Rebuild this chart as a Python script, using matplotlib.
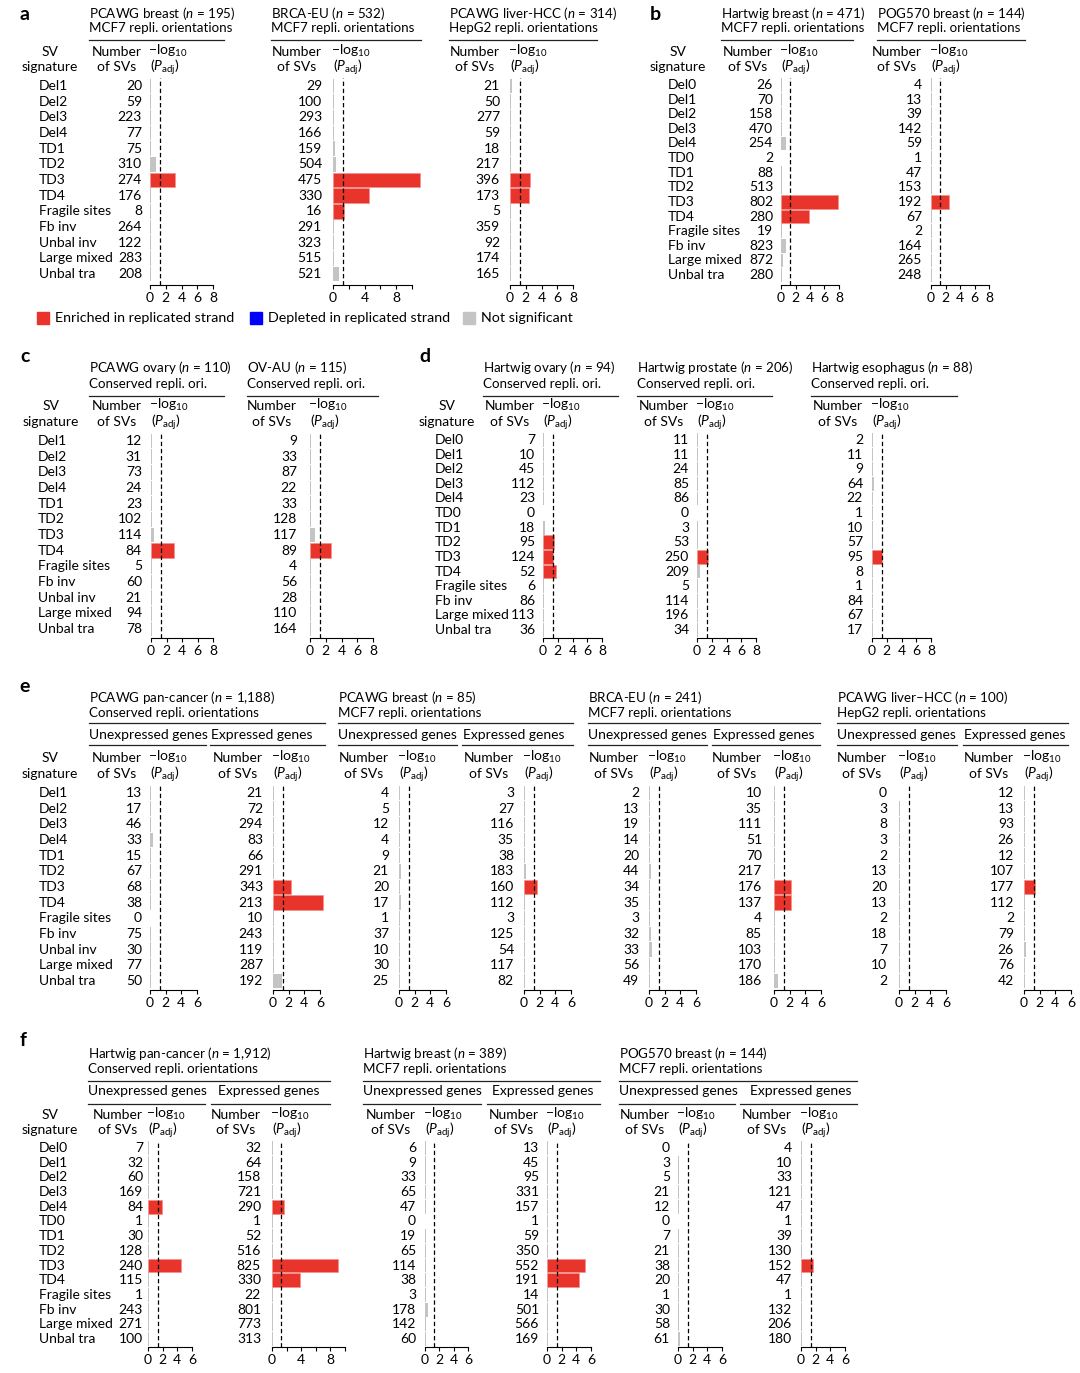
import matplotlib
matplotlib.use("Agg")
import matplotlib.pyplot as plt
from matplotlib.lines import Line2D
from matplotlib.patches import Rectangle

W, H = 1080, 1373

plt.rcParams['font.family'] = ['Lato', 'DejaVu Sans']
plt.rcParams['font.size'] = 10
plt.rcParams['mathtext.fontset'] = 'custom'
plt.rcParams['mathtext.rm'] = 'Lato'
plt.rcParams['mathtext.it'] = 'Lato:italic'
plt.rcParams['mathtext.bf'] = 'Lato:bold'

RED = '#e8342b'
GRAY = '#c4c4c4'
BLUE = '#0000ff'
THR = 1.3  # -log10(0.05)
TITLE_FS = 9.6

sigs13 = ['Del1', 'Del2', 'Del3', 'Del4', 'TD1', 'TD2', 'TD3', 'TD4',
          'Fragile sites', 'Fb inv', 'Unbal inv', 'Large mixed', 'Unbal tra']
sigs14 = ['Del0', 'Del1', 'Del2', 'Del3', 'Del4', 'TD0', 'TD1', 'TD2', 'TD3',
          'TD4', 'Fragile sites', 'Fb inv', 'Large mixed', 'Unbal tra']

# panel a
n_a1 = [20, 59, 223, 77, 75, 310, 274, 176, 8, 264, 122, 283, 208]
p_a1 = [.15, .1, .1, .1, .1, .7, 3.2, .1, .1, .1, .1, .1, .1]
enr_a1 = ['TD3']
n_a2 = [29, 100, 293, 166, 159, 504, 475, 330, 16, 291, 323, 515, 521]
p_a2 = [.15, .1, .1, .1, .25, .35, 11.0, 4.6, 1.4, .1, .1, .1, .7]
enr_a2 = ['TD3', 'TD4', 'Fragile sites']
n_a3 = [21, 50, 277, 59, 18, 217, 396, 173, 5, 359, 92, 174, 165]
p_a3 = [.25, .1, .1, .1, .1, .1, 2.6, 2.4, .1, .1, .1, .1, .1]
enr_a3 = ['TD3', 'TD4']

# panel b
n_b1 = [26, 70, 158, 470, 254, 2, 88, 513, 802, 280, 19, 823, 872, 280]
p_b1 = [.1, .15, .1, .1, .65, 0, .1, .1, 7.9, 3.9, .1, .7, .3, .1]
enr_b1 = ['TD3', 'TD4']
n_b2 = [4, 13, 39, 142, 59, 1, 47, 153, 192, 67, 2, 164, 265, 248]
p_b2 = [.1, .15, .1, .1, .1, .1, .1, .1, 2.5, .1, .1, .1, .1, .1]
enr_b2 = ['TD3']

# panel c
n_c1 = [12, 31, 73, 24, 23, 102, 114, 84, 5, 60, 21, 94, 78]
p_c1 = [.1, .1, .1, .1, .1, .1, .4, 3.0, .1, .1, .1, .1, .1]
enr_c1 = ['TD4']
n_c2 = [9, 33, 87, 22, 33, 128, 117, 89, 4, 56, 28, 110, 164]
p_c2 = [.15, .1, .1, .1, .1, .1, .6, 2.7, .1, .1, .1, .1, .1]
enr_c2 = ['TD4']

# panel d
n_d1 = [7, 10, 45, 112, 23, 0, 18, 95, 124, 52, 6, 86, 113, 36]
p_d1 = [.15, .1, .1, .1, .1, 0, .3, 1.5, 1.4, 1.75, .1, .1, .1, .1]
enr_d1 = ['TD2', 'TD3', 'TD4']
n_d2 = [11, 11, 24, 85, 86, 0, 3, 53, 250, 209, 5, 114, 196, 34]
p_d2 = [.1, .1, .1, .1, .1, 0, .1, .1, 1.5, .35, .1, .1, .1, .1]
enr_d2 = ['TD3']
n_d3 = [2, 11, 9, 64, 22, 1, 10, 57, 95, 8, 1, 84, 67, 17]
p_d3 = [.1, .1, .1, .3, .1, .1, .1, .15, 1.4, .1, .1, .1, .1, .1]
enr_d3 = ['TD3']

# panel e (u = unexpressed genes, e = expressed genes)
n_e1u = [13, 17, 46, 33, 15, 67, 68, 38, 0, 75, 30, 77, 50]
p_e1u = [.1, .1, .1, .35, .1, .1, .1, .1, 0, .1, .1, .1, .1]
n_e1e = [21, 72, 294, 83, 66, 291, 343, 213, 10, 243, 119, 287, 192]
p_e1e = [.1, .1, .1, .1, .1, .1, 2.3, 6.4, .1, .1, .1, .1, 1.2]
enr_e1e = ['TD3', 'TD4']
n_e2u = [4, 5, 12, 4, 9, 21, 20, 17, 1, 37, 10, 30, 25]
p_e2u = [.1, .1, .1, .1, .1, .3, .1, .3, .1, .1, .1, .1, .1]
n_e2e = [3, 27, 116, 35, 38, 183, 160, 112, 3, 125, 54, 117, 82]
p_e2e = [.1, .1, .1, .1, .1, .3, 1.7, .1, .1, .1, .1, .1, .1]
enr_e2e = ['TD3']
n_e3u = [2, 13, 19, 14, 20, 44, 34, 35, 3, 32, 33, 56, 49]
p_e3u = [.1, .1, .1, .1, .1, .25, .1, .1, .1, .25, .35, .1, .1]
n_e3e = [10, 35, 111, 51, 70, 217, 176, 137, 4, 85, 103, 170, 186]
p_e3e = [.1, .1, .1, .1, .1, .1, 2.2, 2.2, .1, .1, .1, .1, .55]
enr_e3e = ['TD3', 'TD4']
n_e4u = [0, 3, 8, 3, 2, 13, 20, 13, 2, 18, 7, 10, 2]
p_e4u = [0, .1, .1, .1, .1, .1, .1, .1, .1, .1, .1, .1, .1]
n_e4e = [12, 13, 93, 26, 12, 107, 177, 112, 2, 79, 26, 76, 42]
p_e4e = [.1, .1, .1, .1, .1, .1, 1.45, .15, .1, .1, .25, .1, .1]
enr_e4e = ['TD3']

# panel f
n_f1u = [7, 32, 60, 169, 84, 1, 30, 128, 240, 115, 1, 243, 271, 100]
p_f1u = [.1, .1, .1, .1, 1.9, .1, .1, .1, 4.5, .1, .1, .15, .1, .1]
enr_f1u = ['Del4', 'TD3']
n_f1e = [32, 64, 158, 721, 290, 1, 52, 516, 825, 330, 22, 801, 773, 313]
p_f1e = [.1, .1, .1, .1, 1.7, .1, .1, .1, 9.05, 3.9, .1, .1, .1, .1]
enr_f1e = ['Del4', 'TD3', 'TD4']
n_f2u = [6, 9, 33, 65, 47, 0, 19, 65, 114, 38, 3, 178, 142, 60]
p_f2u = [.1, .1, .1, .1, .1, 0, .1, .1, .1, .1, .1, .4, .1, .1]
n_f2e = [13, 45, 95, 331, 157, 1, 59, 350, 552, 191, 14, 501, 566, 169]
p_f2e = [.1, .1, .1, .1, .15, .1, .1, .1, 5.15, 4.3, .1, .1, .1, .1]
enr_f2e = ['TD3', 'TD4']
n_f3u = [0, 3, 5, 21, 12, 0, 7, 21, 38, 20, 1, 30, 58, 61]
p_f3u = [0, .1, .1, .1, .1, 0, .1, .1, .1, .1, .1, .1, .1, .25]
n_f3e = [4, 10, 33, 121, 47, 1, 39, 130, 152, 47, 1, 132, 206, 180]
p_f3e = [.1, .1, .1, .1, .1, .1, .1, .1, 1.7, .18, .1, .1, .1, .1]
enr_f3e = ['TD3']

fig = plt.figure(figsize=(W / 100, H / 100), dpi=100)


def fx(x):
    return x / W


def fy(y):
    return 1 - y / H


def txt(x, y, s, **kw):
    kw.setdefault('va', 'center')
    fig.text(fx(x), fy(y), s, **kw)


def hline(x1, x2, y, lw=0.9):
    fig.add_artist(Line2D([fx(x1), fx(x2)], [fy(y), fy(y)], color='#222222', lw=lw))


def bars(x0, x1, xmax, rows, sigs, counts, vals, enriched, numright,
         ticks, ticklabels, labels_x=None):
    y0, y1, yspine = rows
    n = len(sigs)
    sp = (y1 - y0) / (n - 1)
    top = y0 - sp / 2
    ax = fig.add_axes([fx(x0), fy(yspine), (x1 - x0) / W, (yspine - top) / H])
    ax.set_xlim(0, xmax)
    ax.set_ylim(n - 0.5 + (yspine - y1 - sp / 2) / sp, -0.5)
    for i, (s, v) in enumerate(zip(sigs, vals)):
        if s in enriched:
            ax.barh(i, v, height=0.94, color=RED, edgecolor='#f3918b', lw=0.5, clip_on=False)
        else:
            ax.barh(i, v, height=0.94, color=GRAY, lw=0, clip_on=False)
    ax.axvline(THR, color='k', ls=(0, (3.5, 2.2)), lw=0.9)
    for s in ['top', 'right', 'left']:
        ax.spines[s].set_visible(False)
    ax.spines['bottom'].set_linewidth(0.8)
    ax.set_yticks([])
    ax.set_xticks(ticks)
    ax.set_xticklabels(ticklabels)
    ax.tick_params(axis='x', length=3, width=0.8, pad=2, labelsize=10)
    for i, c in enumerate(counts):
        ax.annotate(str(c), xy=(0, i), xycoords=('axes fraction', 'data'),
                    xytext=(-(x0 - numright) * 0.72, 0), textcoords='offset points',
                    ha='right', va='center')
    if labels_x is not None:
        for i, s in enumerate(sigs):
            ax.annotate(s, xy=(0, i), xycoords=('axes fraction', 'data'),
                        xytext=(-(x0 - labels_x) * 0.72, 0), textcoords='offset points',
                        ha='left', va='center')
    return ax


def header(numright, x0, y1, y2):
    txt(numright - 25, y1, 'Number', ha='center')
    txt(numright - 25, y2, 'of SVs', ha='center')
    txt(x0 - 2, y1 - 1, '\u2212log$_{10}$', ha='left')
    txt(x0, y2, '($P_{\\mathrm{adj}}$)', ha='left')


def sv_header(xc, y1, y2):
    txt(xc, y1, 'SV', ha='center')
    txt(xc, y2, 'signature', ha='center')


def title(x, y1, y2, l1, l2, xend, yline):
    txt(x, y1, l1, ha='left', fontsize=TITLE_FS)
    txt(x, y2, l2, ha='left', fontsize=TITLE_FS)
    hline(x, xend, yline)


T8 = ([0, 2, 4, 6, 8], ['0', '2', '4', '6', '8'])
T10 = ([0, 2, 4, 6, 8, 10], ['0', '', '4', '', '8', ''])
T6 = ([0, 2, 4, 6], ['0', '2', '4', '6'])

# ---------------- panel a ----------------
txt(25, 14, 'a', fontsize=14, fontweight='bold', ha='center')
rows_a = (86, 274, 285)
sv_header(50, 52, 67)
title(89, 13, 28, 'PCAWG breast ($n$ = 195)', 'MCF7 repli. orientations', 224, 40)
title(271, 13, 28, 'BRCA-EU ($n$ = 532)', 'MCF7 repli. orientations', 421, 40)
title(449, 13, 28, 'PCAWG liver-HCC ($n$ = 314)', 'HepG2 repli. orientations', 597, 40)
for nr, x0 in [(142, 150), (322, 333), (500, 510)]:
    header(nr, x0, 52, 67)
bars(150, 213, 8, rows_a, sigs13, n_a1, p_a1, enr_a1, 142, *T8, labels_x=39)
bars(333, 412, 10, rows_a, sigs13, n_a2, p_a2, enr_a2, 322, *T10)
bars(510, 573, 8, rows_a, sigs13, n_a3, p_a3, enr_a3, 500, *T8)

# ---------------- panel b ----------------
txt(655, 14, 'b', fontsize=14, fontweight='bold', ha='center')
rows_b = (85, 275, 285)
sv_header(678, 52, 67)
title(721, 13, 28, 'Hartwig breast ($n$ = 471)', 'MCF7 repli. orientations', 853, 40)
title(877, 13, 28, 'POG570 breast ($n$ = 144)', 'MCF7 repli. orientations', 1025, 40)
for nr, x0 in [(773, 781), (922, 931)]:
    header(nr, x0, 52, 67)
bars(781, 839, 8, rows_b, sigs14, n_b1, p_b1, enr_b1, 773, *T8, labels_x=668)
bars(931, 989, 8, rows_b, sigs14, n_b2, p_b2, enr_b2, 922, *T8)

# legend
for xp, col, lab in [(37, RED, 'Enriched in replicated strand'),
                     (250, BLUE, 'Depleted in replicated strand'),
                     (463, GRAY, 'Not significant')]:
    fig.add_artist(Rectangle((fx(xp), fy(324)), 12 / W, 12 / H, color=col,
                             transform=fig.transFigure))
    txt(xp + 18, 318, lab, ha='left', fontsize=10.3)

# ---------------- panel c ----------------
txt(25, 356, 'c', fontsize=14, fontweight='bold', ha='center')
rows_c = (441, 629, 638)
sv_header(51, 406, 422)
title(89, 367, 384, 'PCAWG ovary ($n$ = 110)', 'Conserved repli. ori.', 224, 396)
title(247, 367, 384, 'OV-AU ($n$ = 115)', 'Conserved repli. ori.', 378, 396)
for nr, x0 in [(142, 151), (297, 310)]:
    header(nr, x0, 406, 422)
bars(151, 213, 8, rows_c, sigs13, n_c1, p_c1, enr_c1, 142, *T8, labels_x=38)
bars(310, 373, 8, rows_c, sigs13, n_c2, p_c2, enr_c2, 297, *T8)

# ---------------- panel d ----------------
txt(425, 356, 'd', fontsize=14, fontweight='bold', ha='center')
rows_d = (440, 630, 638)
sv_header(447, 406, 422)
title(483, 367, 384, 'Hartwig ovary ($n$ = 94)', 'Conserved repli. ori.', 618, 396)
title(637, 367, 384, 'Hartwig prostate ($n$ = 206)', 'Conserved repli. ori.', 772, 396)
title(811, 367, 384, 'Hartwig esophagus ($n$ = 88)', 'Conserved repli. ori.', 957, 396)
for nr, x0 in [(535, 543), (689, 697), (863, 872)]:
    header(nr, x0, 406, 422)
bars(543, 602, 8, rows_d, sigs14, n_d1, p_d1, enr_d1, 535, *T8, labels_x=435)
bars(697, 756, 8, rows_d, sigs14, n_d2, p_d2, enr_d2, 689, *T8)
bars(872, 931, 8, rows_d, sigs14, n_d3, p_d3, enr_d3, 863, *T8)

# ---------------- panel e ----------------
txt(25, 686, 'e', fontsize=14, fontweight='bold', ha='center')
rows_e = (793, 981, 990)
sv_header(50, 758, 774)
groups_e = [
    (89, 325, 'PCAWG pan-cancer ($n$ = 1,188)', 'Conserved repli. orientations', 206, 210, 211),
    (338, 573, 'PCAWG breast ($n$ = 85)', 'MCF7 repli. orientations', 457, 462, 463),
    (588, 820, 'BRCA-EU ($n$ = 241)', 'MCF7 repli. orientations', 707, 712, 713),
    (837, 1068, 'PCAWG liver\u2013HCC ($n$ = 100)', 'HepG2 repli. orientations', 957, 963, 964),
]
for gx, gend, l1, l2, uend, estart, ex in groups_e:
    title(gx, 697, 713, l1, l2, gend, 723)
    txt(gx, 735, 'Unexpressed genes', ha='left')
    txt(ex, 735, 'Expressed genes', ha='left')
    hline(gx, uend, 745)
    hline(estart, gend, 745)
cols_e = [(150, 142, n_e1u, p_e1u, [], 39), (273, 263, n_e1e, p_e1e, enr_e1e, None),
          (399, 389, n_e2u, p_e2u, [], None), (524, 514, n_e2e, p_e2e, enr_e2e, None),
          (649, 639, n_e3u, p_e3u, [], None), (774, 762, n_e3e, p_e3e, enr_e3e, None),
          (899, 887, n_e4u, p_e4u, [], None), (1024, 1014, n_e4e, p_e4e, enr_e4e, None)]
for x0, nr, cnt, pv, enr, lx in cols_e:
    header(nr, x0, 758, 774)
    bars(x0, x0 + 47, 6, rows_e, sigs13, cnt, pv, enr, nr, *T6, labels_x=lx)

# ---------------- panel f ----------------
txt(23, 1041, 'f', fontsize=14, fontweight='bold', ha='center')
rows_f = (1148, 1339, 1347)
sv_header(50, 1115, 1130)
groups_f = [
    (88, 330, 'Hartwig pan-cancer ($n$ = 1,912)', 'Conserved repli. orientations', 205, 211, 218),
    (363, 600, 'Hartwig breast ($n$ = 389)', 'MCF7 repli. orientations', 481, 487, 492),
    (619, 857, 'POG570 breast ($n$ = 144)', 'MCF7 repli. orientations', 735, 740, 750),
]
for gx, gend, l1, l2, uend, estart, ex in groups_f:
    title(gx, 1053, 1069, l1, l2, gend, 1081)
    txt(gx, 1091, 'Unexpressed genes', ha='left')
    txt(ex, 1091, 'Expressed genes', ha='left')
    hline(gx, uend, 1104)
    hline(estart, gend, 1104)
cols_f = [(148, 192, 6, 143, n_f1u, p_f1u, enr_f1u, 39, T6),
          (272, 345, 10, 261, n_f1e, p_f1e, enr_f1e, None, T10),
          (425, 468, 6, 416, n_f2u, p_f2u, [], None, T6),
          (547, 591, 6, 539, n_f2e, p_f2e, enr_f2e, None, T6),
          (678, 722, 6, 670, n_f3u, p_f3u, [], None, T6),
          (801, 845, 6, 792, n_f3e, p_f3e, enr_f3e, None, T6)]
for x0, x1, xm, nr, cnt, pv, enr, lx, tk in cols_f:
    header(nr, x0, 1115, 1130)
    bars(x0, x1, xm, rows_f, sigs14, cnt, pv, enr, nr, *tk, labels_x=lx)

fig.savefig('out.png', dpi=100, facecolor='white')
